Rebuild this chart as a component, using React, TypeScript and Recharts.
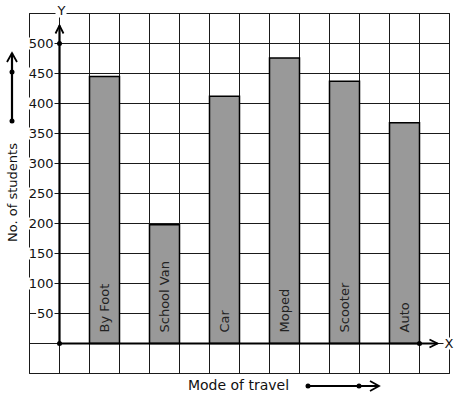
import React from 'react';
import {
  BarChart,
  Bar,
  XAxis,
  YAxis,
  CartesianGrid,
  ReferenceLine,
  ReferenceDot,
  ReferenceArea,
  LabelList,
} from 'recharts';

// values
const modes = ['By Foot', 'School Van', 'Car', 'Moped', 'Scooter', 'Auto'];
const students = [445, 198, 412, 476, 437, 368];
const yGridTicks = [-50, 0, 50, 100, 150, 200, 250, 300, 350, 400, 450, 500, 550];
const yLabelTicks = [50, 100, 150, 200, 250, 300, 350, 400, 450, 500];
const xGridTicks = [0, 1, 2, 3, 4, 5, 6, 7, 8, 9, 10, 11, 12, 13, 14];

// each mode sits in every other grid column, starting at the third
const data = modes.map((name, i) => ({ name, value: students[i], slot: 2.5 + i * 2 }));

const FONT = '"DejaVu Sans", sans-serif';
const INK = '#111';

const NoTick = () => <g />;

const YTick = (props: any) => {
  const { y, payload } = props;
  if (!yLabelTicks.includes(payload.value)) return <g />;
  const label = String(payload.value);
  const w = label.length * 8.2;
  const right = 53.5;
  return (
    <g>
      <rect x={right - w - 1} y={y - 6} width={w + 2} height={12} fill="#fff" />
      <text x={right} y={y} dy="0.36em" textAnchor="end" fontSize={13} fill={INK} fontFamily={FONT}>
        {label}
      </text>
    </g>
  );
};

const BarText = (props: any) => {
  const { x, y, width, height, value } = props;
  const cx = x + width / 2;
  const by = y + height - 11;
  return (
    <text
      x={cx}
      y={by}
      transform={`rotate(-90, ${cx}, ${by})`}
      textAnchor="start"
      dominantBaseline="central"
      fontSize={13}
      fill="#222"
      fontFamily={FONT}
    >
      {value}
    </text>
  );
};

const YArrow = (props: any) => {
  const { x1, y1, x2, y2 } = props;
  return (
    <g>
      <line x1={x1} y1={y1} x2={x2} y2={y2} stroke="#000" strokeWidth={2.2} />
      <polyline
        points={`${x2 - 4},${y2 + 8} ${x2},${y2} ${x2 + 4},${y2 + 8}`}
        fill="none"
        stroke="#000"
        strokeWidth={1.8}
      />
      <rect x={x2 - 4} y={y2 - 21} width={11} height={13} fill="#fff" />
      <text x={x2 + 2} y={y2 - 15} dy="0.36em" textAnchor="middle" fontSize={13} fill={INK} fontFamily={FONT}>
        Y
      </text>
    </g>
  );
};

const XArrow = (props: any) => {
  const { x1, y1, x2, y2 } = props;
  return (
    <g>
      <line x1={x1} y1={y1} x2={x2} y2={y2} stroke="#000" strokeWidth={2.2} />
      <polyline
        points={`${x2 - 8},${y2 - 4} ${x2},${y2} ${x2 - 8},${y2 + 4}`}
        fill="none"
        stroke="#000"
        strokeWidth={1.8}
      />
      <rect x={x2 + 6} y={y2 - 6} width={11} height={12} fill="#fff" />
      <text x={x2 + 11.5} y={y2} dy="0.36em" textAnchor="middle" fontSize={13} fill={INK} fontFamily={FONT}>
        X
      </text>
    </g>
  );
};

const YTitle = (props: any) => {
  const { viewBox } = props;
  const cx = 12;
  const cy = viewBox.y + viewBox.height / 2 - 1;
  return (
    <g>
      <text
        x={cx}
        y={cy}
        transform={`rotate(-90, ${cx}, ${cy})`}
        textAnchor="middle"
        dominantBaseline="central"
        fontSize={13}
        fill={INK}
        fontFamily={FONT}
      >
        No. of students
      </text>
      <line x1={cx} y1={121} x2={cx} y2={53} stroke="#000" strokeWidth={2.2} />
      <polyline points={`${cx - 5},${62} ${cx},${53} ${cx + 5},${62}`} fill="none" stroke="#000" strokeWidth={1.8} />
      <circle cx={cx} cy={121} r={2.5} fill="#000" />
      <circle cx={cx} cy={72} r={2.5} fill="#000" />
    </g>
  );
};

const XTitle = (props: any) => {
  const { viewBox } = props;
  const cx = viewBox.x + viewBox.width / 2 - 1;
  const cy = 385;
  return (
    <g>
      <text x={cx} y={cy} dy="0.36em" textAnchor="middle" fontSize={14} fill={INK} fontFamily={FONT}>
        Mode of travel
      </text>
      <line x1={308} y1={386} x2={379} y2={386} stroke="#000" strokeWidth={2.2} />
      <polyline points={`370,381 379,386 370,391`} fill="none" stroke="#000" strokeWidth={1.8} />
      <circle cx={308} cy={386} r={2.5} fill="#000" />
      <circle cx={359} cy={386} r={2.5} fill="#000" />
    </g>
  );
};

export default function App() {
  return (
    <div style={{ width: 457, height: 399, background: '#fff', fontFamily: FONT }}>
      <style>{'body{margin:0;background:#fff}'}</style>
      <BarChart width={457} height={399} data={data} margin={{ top: 13.5, right: 7.5, bottom: 0, left: 0 }}>
        <CartesianGrid stroke="#1a1a1a" strokeWidth={1} />
        <XAxis
          type="number"
          dataKey="slot"
          domain={[0, 14]}
          ticks={xGridTicks}
          tick={<NoTick />}
          tickLine={false}
          axisLine={false}
          height={25.5}
          label={<XTitle />}
        />
        <YAxis
          type="number"
          domain={[-50, 550]}
          ticks={yGridTicks}
          tick={<YTick />}
          tickLine={false}
          axisLine={false}
          width={29.5}
          label={<YTitle />}
        />
        <ReferenceArea x1={0} x2={14} y1={-50} y2={550} fill="none" stroke="#1a1a1a" strokeWidth={1} />
        <Bar dataKey="value" barSize={30} fill="#999999" stroke="#000" strokeWidth={1.5} isAnimationActive={false}>
          <LabelList dataKey="name" content={<BarText />} />
        </Bar>
        <ReferenceLine segment={[{ x: 1, y: 0 }, { x: 1, y: 530 }]} shape={<YArrow />} />
        <ReferenceLine segment={[{ x: 1, y: 0 }, { x: 13.6, y: 0 }]} shape={<XArrow />} />
        <ReferenceDot x={1} y={500} r={2.5} fill="#000" stroke="none" />
        <ReferenceDot x={1} y={0} r={2.5} fill="#000" stroke="none" />
        <ReferenceDot x={13} y={0} r={2.5} fill="#000" stroke="none" />
      </BarChart>
    </div>
  );
}
